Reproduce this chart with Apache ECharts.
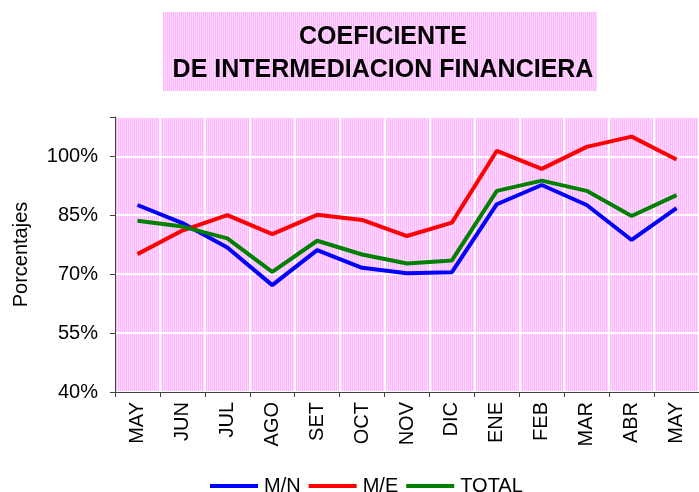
<!DOCTYPE html>
<html>
<head>
<meta charset="utf-8">
<script src="https://cdn.jsdelivr.net/npm/echarts@6/dist/echarts.min.js"></script>
<style>
html,body{margin:0;padding:0;background:#fff;}
#c{width:699px;height:492px;}
</style>
</head>
<body>
<div id="c"></div>
<script>
const categories = ['MAY','JUN','JUL','AGO','SET','OCT','NOV','DIC','ENE','FEB','MAR','ABR','MAY'];
const seriesMN = [87.6, 83.0, 76.8, 67.2, 76.1, 71.6, 70.2, 70.5, 87.8, 92.7, 87.6, 78.7, 86.8];
const seriesME = [75.1, 81.1, 85.0, 80.2, 85.1, 83.8, 79.7, 83.1, 101.4, 96.8, 102.4, 105.0, 99.2];
const seriesTOTAL = [83.6, 82.1, 79.1, 70.6, 78.5, 75.0, 72.7, 73.5, 91.2, 93.8, 91.2, 84.8, 90.1];
const yTicks = [40, 55, 70, 85, 100];

function makePattern() {
  const cv = document.createElement('canvas');
  cv.width = 2; cv.height = 2;
  const ctx = cv.getContext('2d');
  ctx.fillStyle = '#FFB8FF'; ctx.fillRect(0, 0, 1, 2);
  ctx.fillStyle = '#FFD8FF'; ctx.fillRect(1, 0, 1, 2);
  return cv;
}
const pat = makePattern();
const patFill = { image: pat, repeat: 'repeat' };
const FONT = '"Liberation Sans", Arial, sans-serif';

const chart = echarts.init(document.getElementById('c'), null, { renderer: 'canvas' });
chart.setOption({
  animation: false,
  backgroundColor: '#fff',
  graphic: [{
    type: 'group',
    left: 163, top: 12,
    children: [{
      type: 'rect',
      shape: { x: 0, y: 0, width: 434, height: 79 },
      style: { fill: patFill }
    }, {
      type: 'text',
      x: 220, y: 42,
      style: {
        text: 'COEFICIENTE\nDE INTERMEDIACION FINANCIERA',
        fill: '#000',
        font: 'bold 25px ' + FONT,
        align: 'center',
        verticalAlign: 'middle',
        lineHeight: 33
      }
    }]
  }],
  grid: {
    left: 115, right: -6, top: 117, bottom: 100,
    show: true, backgroundColor: patFill, borderWidth: 0
  },
  legend: {
    left: 210, top: 476, padding: 0,
    itemWidth: 48, itemHeight: 4, itemGap: 8,
    icon: 'rect',
    textStyle: { fontFamily: FONT, fontSize: 20, color: '#000', padding: [0, 0, 0, 1] },
    data: ['M/N', 'M/E', 'TOTAL']
  },
  xAxis: {
    type: 'category',
    data: categories,
    boundaryGap: true,
    axisLine: { lineStyle: { color: '#404040', width: 1 } },
    axisTick: { show: true, interval: 0, length: 5, lineStyle: { color: '#404040' } },
    axisLabel: { interval: 0, rotate: 90, margin: 10, fontFamily: FONT, fontSize: 20, color: '#000' },
    splitLine: { show: true, interval: 0, lineStyle: { color: '#fff', width: 2 } }
  },
  yAxis: {
    type: 'value',
    min: 40, max: 110, interval: 15,
    name: 'Porcentajes',
    nameLocation: 'middle',
    nameGap: 84,
    nameTextStyle: { fontFamily: FONT, fontSize: 20, color: '#000' },
    axisLine: { show: true, lineStyle: { color: '#404040', width: 1 } },
    axisTick: { show: true, length: 5, lineStyle: { color: '#404040' } },
    axisLabel: {
      margin: 17, fontFamily: FONT, fontSize: 20, color: '#000',
      formatter: v => (yTicks.indexOf(v) >= 0 ? v + '%' : '')
    },
    splitLine: { show: true, lineStyle: { color: '#fff', width: 2 } }
  },
  series: [
    { name: 'M/N', type: 'line', data: seriesMN, showSymbol: false, symbol: 'none',
      lineStyle: { color: '#0000FF', width: 4 }, itemStyle: { color: '#0000FF' } },
    { name: 'M/E', type: 'line', data: seriesME, showSymbol: false, symbol: 'none',
      lineStyle: { color: '#FF0000', width: 4 }, itemStyle: { color: '#FF0000' } },
    { name: 'TOTAL', type: 'line', data: seriesTOTAL, showSymbol: false, symbol: 'none',
      lineStyle: { color: '#008000', width: 4 }, itemStyle: { color: '#008000' } }
  ]
});
</script>
</body>
</html>
